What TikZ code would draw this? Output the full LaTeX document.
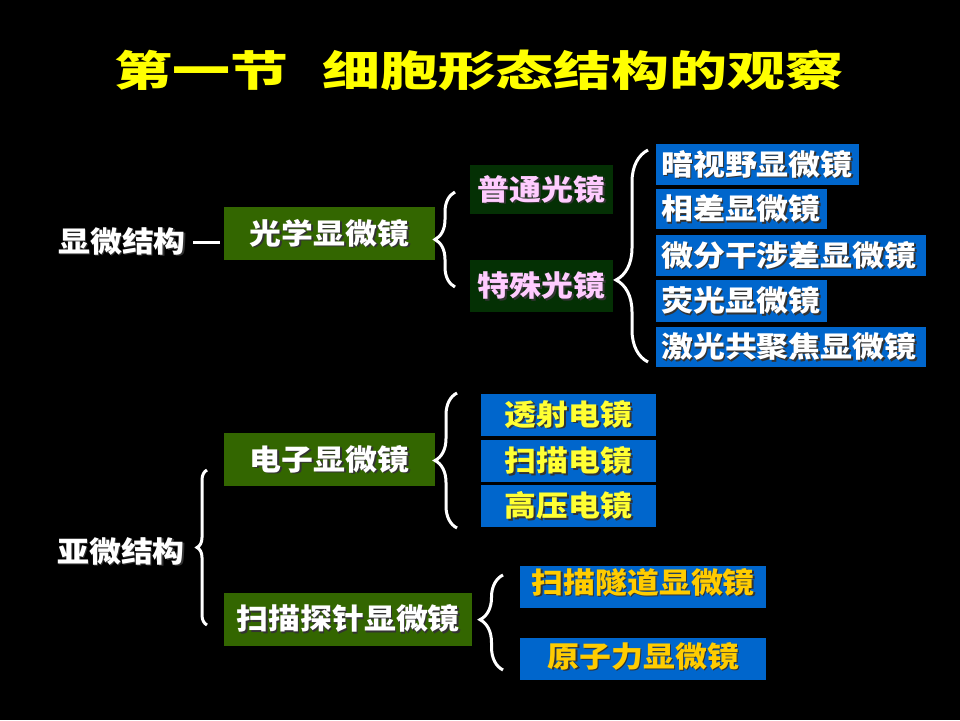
\documentclass[tikz,border=0pt]{standalone}
\usepackage{fontspec}
\newfontfamily\cjk[FakeStretch=1.1]{Noto Sans CJK SC}
\newfontfamily\ttl[FakeStretch=1.38]{Noto Sans CJK SC}
\usetikzlibrary{decorations.pathreplacing}
\definecolor{lgreen}{RGB}{51,102,0}
\definecolor{dgreen}{RGB}{4,48,4}
\definecolor{bblue}{RGB}{0,102,204}
\definecolor{pinkt}{RGB}{255,204,255}
\definecolor{yelt}{RGB}{255,255,51}
\definecolor{goldt}{RGB}{255,204,0}
\definecolor{ttlc}{RGB}{255,255,0}
\newcommand\shd[1]{\rlap{\kern1.5pt\raisebox{-1.5pt}{\color{black!80}#1}}#1}
\tikzset{
  txt/.style={font=\cjk\bfseries\fontsize{29}{32}\selectfont, inner sep=0pt},
  plain/.style={txt, text=white},
  cbox/.style={txt, anchor=north west},
  gbox/.style={cbox, fill=lgreen, text=white},
  dbox/.style={cbox, fill=dgreen, text=pinkt},
  lbox/.style={cbox, fill=bblue, text=white, align=left, inner xsep=5pt},
  ybox/.style={cbox, fill=bblue, text=yelt},
  obox/.style={cbox, fill=bblue, text=goldt},
  conn/.style={draw=white, line width=3pt},
  brc/.style={draw=white, line width=3pt, decorate},
}
\begin{document}
\begin{tikzpicture}[x=1pt,y=-1pt]
\fill[black] (0,0) rectangle (960,720);
\useasboundingbox (0,0) rectangle (960,720);

% title
\node[font=\ttl\bfseries\fontsize{42}{46}\selectfont, text=ttlc, inner sep=0pt] (title) at (479,70) {第一节\hspace{34pt}细胞形态结构的观察};

% upper part
\node[plain] (L1) at (122,242) {\shd{显微结构}};
\node[gbox, minimum width=211pt, minimum height=53pt] (A) at (224,207) {\shd{光学显微镜}};
\node[dbox, minimum width=143pt, minimum height=49pt] (B) at (470,165) {\shd{普通光镜}};
\node[dbox, minimum width=143pt, minimum height=52pt] (C) at (470,260) {\shd{特殊光镜}};
\node[lbox, text width=193pt, minimum height=41pt] (D1) at (656,144) {\shd{暗视野显微镜}};
\node[lbox, text width=161pt, minimum height=40pt] (D2) at (656,189) {\shd{相差显微镜}};
\node[lbox, text width=260pt, minimum height=41pt] (D3) at (656,235) {\shd{微分干涉差显微镜}};
\node[lbox, text width=161pt, minimum height=42pt] (D4) at (656,280) {\shd{荧光显微镜}};
\node[lbox, text width=260pt, minimum height=40pt] (D5) at (656,327) {\shd{激光共聚焦显微镜}};

\draw[conn, shorten <=7pt, shorten >=4pt] (L1.east) -- (L1.east -| A.west);

\coordinate (b1t) at (455,192);
\coordinate (b1b) at (455,287);
\draw[brc, decoration={brace, amplitude=20pt, aspect=0.5}] (b1b) -- (b1t);
\coordinate (b2t) at (648,150);
\coordinate (b2b) at (648,362);
\draw[brc, decoration={brace, amplitude=32pt, aspect=0.387}] (b2b) -- (b2t);

% lower part
\node[plain] (L2) at (121,552) {\shd{亚微结构}};
\node[gbox, minimum width=211pt, minimum height=53pt] (E) at (224,433) {\shd{电子显微镜}};
\node[gbox, minimum width=248pt, minimum height=53pt] (F) at (224,593) {\shd{扫描探针显微镜}};
\node[ybox, minimum width=175pt, minimum height=42pt] (G1) at (481,394) {\shd{透射电镜}};
\node[ybox, minimum width=175pt, minimum height=42pt] (G2) at (481,440) {\shd{扫描电镜}};
\node[ybox, minimum width=175pt, minimum height=42pt] (G3) at (481,485) {\shd{高压电镜}};
\node[obox, minimum width=246pt, minimum height=42pt, text height=12pt, text depth=0pt] (H1) at (520,566) {\shd{扫描隧道显微镜}};
\node[obox, minimum width=246pt, minimum height=42pt, text height=16pt, text depth=0pt] (H2) at (520,638) {\shd{原子力显微镜}};

\coordinate (b3t) at (207,470);
\coordinate (b3b) at (207,625);
\draw[brc, decoration={brace, amplitude=10pt, aspect=0.5}] (b3b) -- (b3t);
\coordinate (b4t) at (457,393);
\coordinate (b4b) at (457,528);
\draw[brc, decoration={brace, amplitude=22pt, aspect=0.5}] (b4b) -- (b4t);
\coordinate (b5t) at (503,575);
\coordinate (b5b) at (503,670);
\draw[brc, decoration={brace, amplitude=23pt, aspect=0.53}] (b5b) -- (b5t);
\end{tikzpicture}
\end{document}
